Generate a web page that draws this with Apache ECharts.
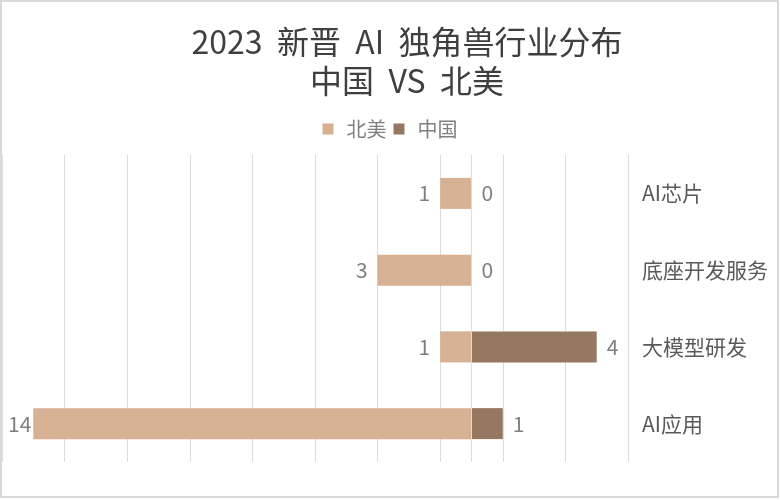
<!DOCTYPE html>
<html>
<head>
<meta charset="utf-8">
<script src="https://cdn.jsdelivr.net/npm/echarts@6/dist/echarts.min.js"></script>
<style>
html,body{margin:0;padding:0;background:#fff;}
#c{width:780px;height:500px;}
</style>
</head>
<body>
<div id="c"></div>
<script>
var categories = ['AI芯片', '底座开发服务', '大模型研发', 'AI应用'];
var northAmerica = [1, 3, 1, 14];
var china = [0, 0, 4, 1];
var seriesNames = ['北美', '中国'];

var chart = echarts.init(document.getElementById('c'));
var font = '"Noto Sans CJK SC", "Noto Sans", sans-serif';
var naMax = Math.max.apply(null, northAmerica);
var naData = northAmerica.map(function (v) {
  var item = { value: -v };
  if (v === naMax) { item.label = { distance: 2 }; }
  return item;
});

chart.setOption({
  backgroundColor: '#fff',
  animation: false,
  textStyle: { fontFamily: font },
  title: {
    text: '2023  新晋  AI  独角兽行业分布\n中国  VS  北美',
    left: 402,
    textAlign: 'center',
    top: 17,
    textStyle: { fontSize: 32, fontWeight: 'normal', color: '#3f3f3f', lineHeight: 39, fontFamily: font }
  },
  legend: {
    data: seriesNames,
    top: 114,
    left: 'center',
    itemWidth: 11,
    itemHeight: 11,
    itemGap: 7,
    icon: 'rect',
    textStyle: { fontSize: 20, color: '#808080', fontFamily: font, padding: [0, 0, 0, 8] }
  },
  graphic: [{
    type: 'rect',
    shape: { x: 1, y: 1, width: 777, height: 496 },
    style: { fill: 'none', stroke: '#d9d9d9', lineWidth: 2 },
    silent: true
  }],
  grid: { left: 2, right: 152, top: 155, bottom: 38 },
  xAxis: {
    type: 'value',
    min: -15,
    max: 5,
    interval: 2,
    axisLabel: { show: false },
    axisLine: { show: false },
    axisTick: { show: false },
    splitLine: { show: true, lineStyle: { color: '#dcdcdc', width: 1 } }
  },
  yAxis: {
    type: 'category',
    data: categories,
    inverse: true,
    position: 'right',
    axisLine: { show: false },
    axisTick: { show: false },
    axisLabel: { margin: 14, fontSize: 21, color: '#595959', fontFamily: font }
  },
  series: [
    {
      name: seriesNames[0],
      type: 'bar',
      barWidth: 31,
      barGap: '-100%',
      data: naData,
      itemStyle: { color: '#d6b194' },
      label: {
        show: true, position: 'left', distance: 10,
        fontSize: 21, color: '#7f7f7f',
        formatter: function (p) { return Math.abs(p.value); }
      }
    },
    {
      name: seriesNames[1],
      type: 'bar',
      barWidth: 31,
      barGap: '-100%',
      data: china,
      itemStyle: { color: '#967862' },
      label: {
        show: true, position: 'right', distance: 10,
        fontSize: 21, color: '#7f7f7f'
      },
      markLine: {
        silent: true,
        symbol: 'none',
        label: { show: false },
        lineStyle: { color: '#dcdcdc', type: 'solid', width: 1 },
        data: [{ xAxis: 0 }]
      }
    }
  ]
});
</script>
</body>
</html>
